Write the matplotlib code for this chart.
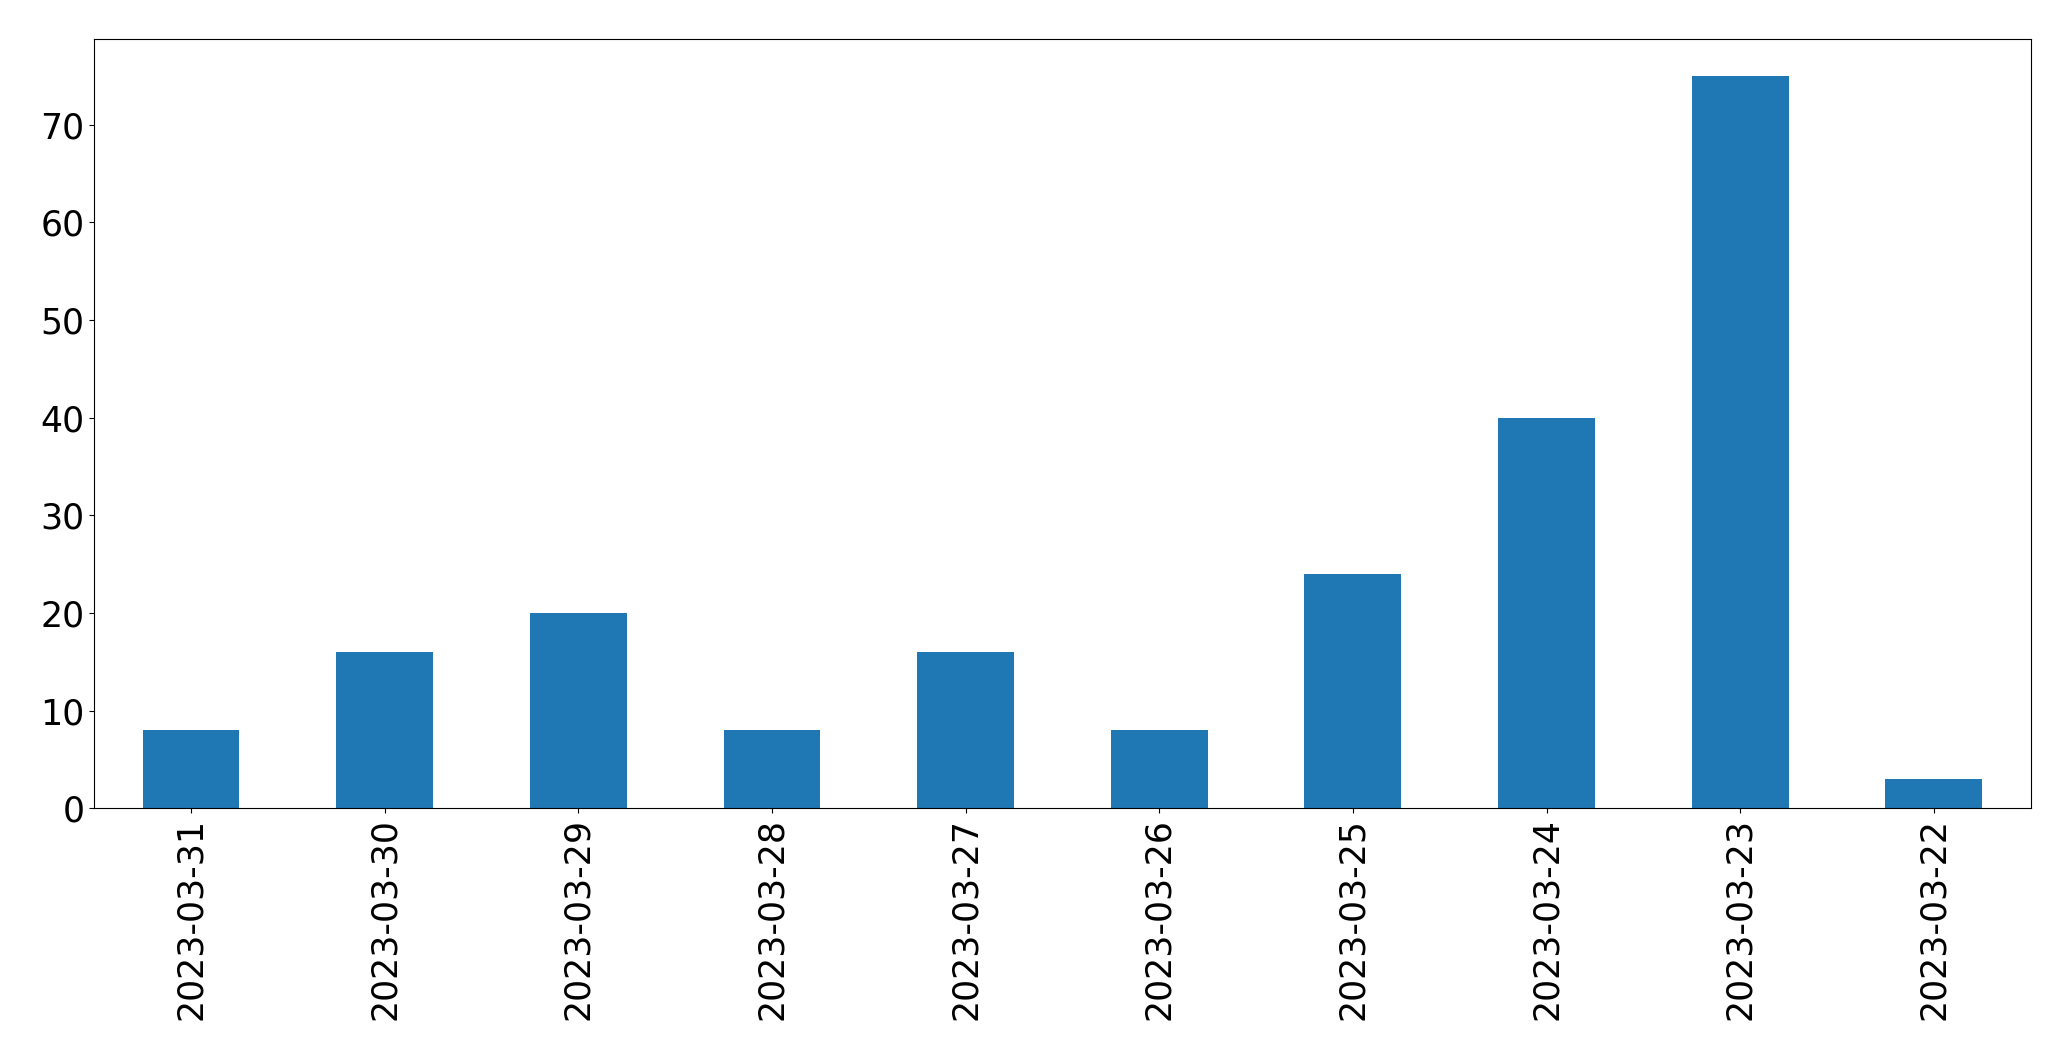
import matplotlib
matplotlib.use("Agg")
import matplotlib.pyplot as plt

dates = ["2023-03-31","2023-03-30","2023-03-29","2023-03-28","2023-03-27",
         "2023-03-26","2023-03-25","2023-03-24","2023-03-23","2023-03-22"]
counts = [8, 16, 20, 8, 16, 8, 24, 40, 75, 3]

fig = plt.figure(figsize=(20.71, 10.61), dpi=100)
ax = fig.add_axes([0.0455, 0.238, 0.935, 0.725])
x = range(len(dates))
ax.bar(x, counts, width=0.5, color="#1f77b4")
ax.set_xticks(list(x))
ax.set_xticklabels(dates, rotation=90)
ax.set_xlim(-0.5, len(dates) - 0.5)
ax.tick_params(labelsize=25)
fig.savefig("out.png", dpi=100)
